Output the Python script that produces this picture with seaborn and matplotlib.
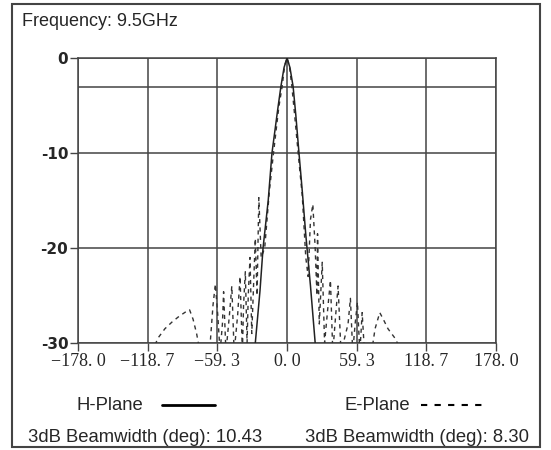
import matplotlib
matplotlib.use("Agg")
import matplotlib.pyplot as plt
from matplotlib.lines import Line2D
from matplotlib.patches import Rectangle
import pandas as pd
import seaborn as sns

# Data (angle in deg, relative level in dB)
h_angle = [-30, -27, -23, -20.4, -16, -12.8, -8, -5.2, -2.5, 0,
           2.5, 5.2, 7.5, 10.2, 13, 16, 20, 24, 27]
h_level = [-33, -30, -24.5, -20, -15, -10, -5.5, -3, -1, 0,
           -1, -3, -6, -10, -14, -18.6, -24, -30, -33]

e_angle = [-115, -110, -104, -98, -92, -86, -83, -80, -77, -74,
           -66, -63, -61, -59, -57,
           -55, -54, -52,
           -49, -47, -45,
           -42, -40, -38,
           -37, -35.5, -34,
           -33, -31.5, -30,
           -28.5, -27, -25.5,
           -24, -22, -19, -15, -11.5, -7, -4.15, -2, 0,
           2, 4.15, 6.5, 9.5, 13, 16,
           18, 20, 22, 24, 25.5, 26, 27.5, 30, 32,
           35, 37, 39, 41.5, 43.5, 46,
           52, 54, 56, 58, 60, 62, 63, 64, 66,
           72, 75, 79, 82, 86, 92, 98]
e_level = [-31, -29.5, -28.5, -27.8, -27.2, -26.7, -26.5, -27.5, -29, -31,
           -31, -26, -23.8, -27, -31,
           -28, -24.6, -31,
           -27, -24, -31,
           -27, -23, -31,
           -26, -22.5, -30,
           -25, -21, -29,
           -24, -19, -25,
           -14.7, -21, -20, -14, -10, -5.2, -3, -0.8, 0,
           -0.8, -3, -6, -10, -14.5, -21,
           -23, -17, -15.4, -20, -25, -18.5, -28, -21.5, -30,
           -26, -23.4, -31, -27, -24, -31,
           -28, -25.3, -31, -28, -25.7, -31, -29, -26.8, -31,
           -31, -28.5, -26.8, -27.5, -28.5, -29.5, -31]

x_ticks = [-178.0, -118.7, -59.3, 0.0, 59.3, 118.7, 178.0]
x_labels = ["\u2212178. 0", "\u2212118. 7", "\u221259. 3", "0. 0", "59. 3", "118. 7", "178. 0"]
y_grid = [0, -3, -10, -20, -30]
y_ticks = [0, -10, -20, -30]
y_labels = ["0", "-10", "-20", "-30"]

h_df = pd.DataFrame({"angle": h_angle, "level": h_level})
e_df = pd.DataFrame({"angle": e_angle, "level": e_level})

sns.set_style("white")
plt.rcParams["font.family"] = ["Liberation Sans", "DejaVu Sans"]

W, H = 551, 450
fig = plt.figure(figsize=(W / 100, H / 100), dpi=100)

ax = fig.add_axes([78 / W, 1 - 343 / H, (496 - 78) / W, (343 - 58) / H])

sns.lineplot(data=e_df, x="angle", y="level", ax=ax, color="#333333",
             linewidth=1.0, linestyle=(0, (3, 3)), zorder=3)
sns.lineplot(data=h_df, x="angle", y="level", ax=ax, color="#222222",
             linewidth=1.1, zorder=4)

ax.set_xlim(-178, 178)
ax.set_ylim(-30, 0)
for gx in x_ticks:
    ax.axvline(gx, color="#444444", linewidth=1.1, zorder=2)
for gy in y_grid:
    ax.axhline(gy, color="#444444", linewidth=1.1, zorder=2)
for s in ax.spines.values():
    s.set_color("#444444")
    s.set_linewidth(1.1)

ax.set_xticks(x_ticks)
ax.set_xticklabels(x_labels, family=["Liberation Serif", "DejaVu Serif"], fontsize=13)
ax.set_yticks(y_ticks)
ax.set_yticklabels(y_labels, fontsize=11, fontweight="bold",
                   family=["DejaVu Sans"])
ax.tick_params(axis="both", direction="out", length=6, width=1,
               color="#444444", pad=1, bottom=True, left=True)
ax.set_xlabel("")
ax.set_ylabel("")

# outer frame
fig.add_artist(Rectangle((12 / W, 1 - 447 / H), (540 - 12) / W, (447 - 4) / H,
                         transform=fig.transFigure, fill=False,
                         edgecolor="#444444", linewidth=1.5))

fig.text(22 / W, 1 - 22 / H, "Frequency: 9.5GHz", fontsize=13, va="center")

fs = 13.3
fig.text(76 / W, 1 - 405 / H, "H-Plane", fontsize=fs, va="center")
fig.add_artist(Line2D([162 / W, 215 / W], [1 - 405 / H, 1 - 405 / H],
                      transform=fig.transFigure, color="black", linewidth=2))
fig.text(344 / W, 1 - 405 / H, "E-Plane", fontsize=fs, va="center")
fig.add_artist(Line2D([421 / W, 482 / W], [1 - 405 / H, 1 - 405 / H],
                      transform=fig.transFigure, color="black", linewidth=1.5,
                      linestyle=(0, (3, 3.5))))
fig.text(28 / W, 1 - 438 / H, "3dB Beamwidth (deg): 10.43", fontsize=fs, va="center")
fig.text(305 / W, 1 - 438 / H, "3dB Beamwidth (deg): 8.30", fontsize=fs, va="center")

fig.savefig("out.png", dpi=100)
